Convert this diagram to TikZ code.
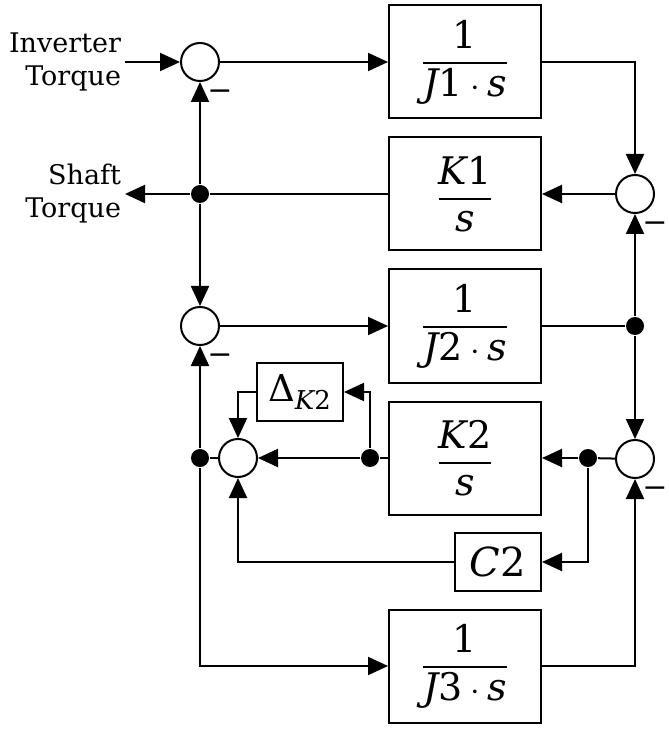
\documentclass[tikz,border=0pt]{standalone}
\usepackage{amsmath}
\usepackage{fontspec}
\setmainfont{DejaVu Serif}
\usetikzlibrary{arrows.meta}

\newcommand{\itv}[1]{\textit{#1}}

\begin{document}
\begin{tikzpicture}[x=0.5pt,y=-0.5pt,line width=1pt,
    >={Triangle[length=10pt,width=9pt]},
    block/.style={draw,minimum width=76pt,minimum height=56.5pt,inner sep=0pt,
        font=\fontsize{19}{23}\selectfont},
    smallblock/.style={draw,minimum width=43pt,minimum height=29pt,inner sep=0pt},
    sum/.style={draw,circle,minimum size=19pt,inner sep=0pt},
    dot/.style={fill,circle,minimum size=9pt,inner sep=0pt},
    sigtext/.style={align=right,anchor=east,inner sep=1.5pt,
        font=\fontsize{13.5}{16.5}\selectfont},
    neg/.style={inner sep=0pt,font=\fontsize{15}{15}\selectfont}]
    \useasboundingbox (0,0) rectangle (668,731);

    % Inputs and outputs
    \node[sigtext] (inp) at (125,62) {Inverter\\Torque};
    \node[sigtext] (out) at (125,194) {Shaft\\Torque};

    % Summing points
    \node[sum] (s1) at (200,62) {};
    \node[sum] (s2) at (635,194) {};
    \node[sum] (s3) at (200,326) {};
    \node[sum] (s4) at (635,459) {};
    \node[sum] (s5) at (238,458) {};

    % Blocks
    \node[block] (b1) at (465,62) {$\dfrac{\text{1}}{\itv{J}\text{1}\cdot\itv{s}}$};
    \node[block] (k1) at (465,194) {$\dfrac{\itv{K}\text{1}}{\itv{s}}$};
    \node[block] (b2) at (465,326) {$\dfrac{\text{1}}{\itv{J}\text{2}\cdot\itv{s}}$};
    \node[block] (k2) at (465,458) {$\dfrac{\itv{K}\text{2}}{\itv{s}}$};
    \node[block] (b3) at (465,666) {$\dfrac{\text{1}}{\itv{J}\text{3}\cdot\itv{s}}$};
    \node[smallblock,font=\fontsize{20}{23}\selectfont] (c2) at (498,562) {\itv{C}2};
    \node[smallblock,font=\fontsize{18.5}{20}\selectfont] (dk) at (300,392) {$\text{Δ}_{\itv{K}\text{2}}$};

    % Branch points
    \node[dot] (j1) at (200,194) {};
    \node[dot] (jr) at (635,326) {};
    \node[dot] (jk) at (588,458) {};
    \node[dot] (jd) at (370,458) {};
    \node[dot] (jl) at (200,458) {};

    % Upper path
    \draw[->] (inp) -- (s1);
    \draw[->] (s1) -- (b1);
    \draw[->] (b1) -| (s2);
    \draw[->] (s2) -- (k1);
    \draw (k1) -- (j1);
    \draw[->] (j1) -- (out);
    \draw[->] (j1) -- (s1);
    \draw[->] (j1) -- (s3);
    \draw[->] (s3) -- (b2);
    \draw (b2) -- (jr);
    \draw[->] (jr) -- (s2);
    \draw[->] (jr) -- (s4);

    % Lower path
    \draw (s4) -- (jk);
    \draw[->] (jk) -- (k2);
    \draw[->] (jk) |- (c2);
    \draw (k2) -- (jd);
    \draw[->] (jd) -- (s5);
    \draw[->] (jd) |- (dk);
    \draw[->] (dk) -| (s5);
    \draw[->] (c2) -| (s5);
    \draw (s5) -- (jl);
    \draw[->] (jl) -- (s3);
    \draw[->] (jl) |- (b3);
    \draw[->] (b3) -| (s4);

    % Signs
    \node[neg] at ([shift={(20,33)}]s1.center) {−};
    \node[neg] at ([shift={(20,33)}]s2.center) {−};
    \node[neg] at ([shift={(20,33)}]s3.center) {−};
    \node[neg] at ([shift={(20,33)}]s4.center) {−};
\end{tikzpicture}
\end{document}
